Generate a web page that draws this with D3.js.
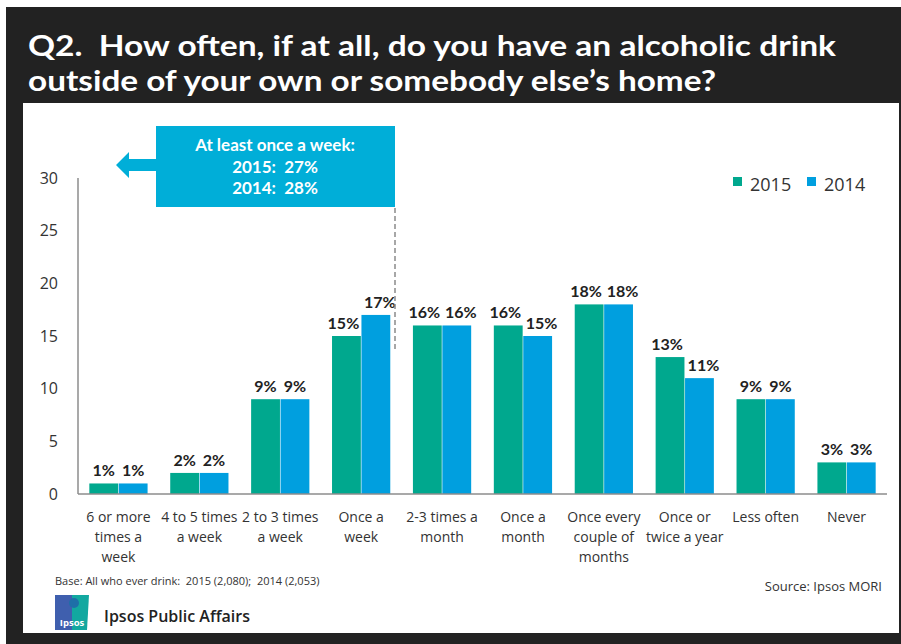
<!DOCTYPE html>
<html><head><meta charset="utf-8">
<script src="https://cdn.jsdelivr.net/npm/d3@7"></script>
<style>body{margin:0;background:#fff}svg{display:block}text{white-space:pre}</style>
</head><body>
<svg id="c" width="901" height="644"></svg>
<script>
const categories = [
  ["6 or more","times a","week"],
  ["4 to 5 times","a week"],
  ["2 to 3 times","a week"],
  ["Once a","week"],
  ["2-3 times a","month"],
  ["Once a","month"],
  ["Once every","couple of","months"],
  ["Once or","twice a year"],
  ["Less often"],
  ["Never"]
];
const series = ["2015","2014"];
const values2015 = [1,2,9,15,16,16,18,13,9,3];
const values2014 = [1,2,9,17,16,15,18,11,9,3];
const yTicks = [0,5,10,15,20,25,30];
const colors = {"2015":"#00A88E","2014":"#009FDF"};

const svg = d3.select("#c");
const font = "'Open Sans','Noto Sans',sans-serif";
const bfont = "Lato,'Open Sans',sans-serif";

// frame
svg.append("rect").attr("x",6).attr("y",7).attr("width",895).attr("height",637).attr("fill","#222222");
svg.append("rect").attr("x",23).attr("y",103).attr("width",876).attr("height",530).attr("fill","#ffffff");

// title
const titleLines = ["Q2.  How often, if at all, do you have an alcoholic drink","outside of your own or somebody else\u2019s home?"];
const titleW = [808, 688];
titleLines.forEach((t,i)=>{
  svg.append("text").attr("x",28).attr("y",56+i*35).attr("fill","#fff")
    .attr("font-family",bfont).attr("font-weight","bold").attr("font-size",29)
    .attr("textLength",titleW[i]).attr("lengthAdjust","spacingAndGlyphs").text(t);
});

const m = {left:78,right:887,top:178,bottom:494};
const x0 = d3.scaleBand().domain(d3.range(categories.length)).range([m.left,m.right]).paddingInner(0.28).paddingOuter(0.14);
const x1 = d3.scaleBand().domain(series).range([0,x0.bandwidth()]).paddingInner(0.02);
const y = d3.scaleLinear().domain([0,30]).range([m.bottom,m.top]);

// y axis labels
const yAxis = d3.axisLeft(y).tickValues(yTicks).tickSize(0).tickPadding(20);
const ga = svg.append("g").attr("transform",`translate(${m.left},0)`).call(yAxis);
ga.select(".domain").attr("stroke","#8c8c8c").attr("stroke-width",1.5).attr("d",`M0,${m.top}V${m.bottom}`);
ga.selectAll("text").attr("font-family",font).attr("font-size",16).attr("fill","#333");

// bars
const data = categories.map((c,i)=>({i, vals:{"2015":values2015[i],"2014":values2014[i]}}));
const g = svg.append("g");
data.forEach(d=>{
  series.forEach(s=>{
    const v = d.vals[s];
    const bx = x0(d.i)+x1(s);
    g.append("rect").attr("x",bx).attr("y",y(v)).attr("width",x1.bandwidth()).attr("height",y(0)-y(v)).attr("fill",colors[s]);
  });
  const wide = d.vals["2015"]>=10 || d.vals["2014"]>=10;
  series.forEach((s,k)=>{
    const v = d.vals[s];
    const bx = x0(d.i)+x1(s);
    const shift = wide ? (k===0 ? -3 : 4) : 0;
    g.append("text").attr("x",bx+x1.bandwidth()/2+shift).attr("y",y(v)-7).attr("text-anchor","middle")
      .attr("font-family",bfont).attr("font-weight","bold").attr("font-size",16).attr("fill","#222").text(v+"%");
  });
});

// x axis
const xa = svg.append("g").attr("transform",`translate(0,${m.bottom})`)
  .call(d3.axisBottom(x0).tickSize(0).tickFormat(""));
xa.select(".domain").attr("stroke","#8c8c8c").attr("stroke-width",1.5).attr("d",`M${m.left},0H${m.right}`);
categories.forEach((c,i)=>{
  const t = svg.append("text").attr("text-anchor","middle").attr("font-family",font).attr("font-size",14).attr("fill","#333");
  c.forEach((line,j)=>{
    t.append("tspan").attr("x",x0(i)+x0.bandwidth()/2).attr("y",522+j*20).text(line);
  });
});

// legend
series.forEach((s,i)=>{
  const lx = 733 + i*74;
  svg.append("rect").attr("x",lx).attr("y",177).attr("width",9).attr("height",9).attr("fill",colors[s]);
  svg.append("text").attr("x",lx+17).attr("y",191).attr("font-family",font).attr("font-size",18).attr("fill","#333").text(s);
});

// dashed line
svg.append("line").attr("x1",395).attr("x2",395).attr("y1",208).attr("y2",352)
  .attr("stroke","#8a8a8a").attr("stroke-width",1.5).attr("stroke-dasharray","5,3");

// callout
const cc = "#00AED8";
svg.append("rect").attr("x",156).attr("y",126).attr("width",239).attr("height",81).attr("fill",cc);
svg.append("path").attr("d","M116,165 L129,152 L129,159 L156,159 L156,171 L129,171 L129,178 Z").attr("fill",cc);
["At least once a week:","2015:  27%","2014:  28%"].forEach((t,i)=>{
  svg.append("text").attr("x",275).attr("y",151+i*21.5).attr("text-anchor","middle").attr("fill","#fff")
    .attr("font-family",bfont).attr("font-weight","bold").attr("font-size",17).text(t);
});

// footer
svg.append("text").attr("x",55).attr("y",585).attr("font-family",font).attr("font-size",11).attr("fill","#333")
  .text("Base: All who ever drink:  2015 (2,080);  2014 (2,053)");
svg.append("text").attr("x",882).attr("y",591).attr("text-anchor","end").attr("font-family",font).attr("font-size",13).attr("fill","#333")
  .text("Source: Ipsos MORI");
// logo
svg.append("rect").attr("x",55).attr("y",595).attr("width",17).attr("height",35).attr("fill","#3F5FAE");
svg.append("path").attr("d","M72,595 L89,595 L87,630 L72,630 Z").attr("fill","#12A8A0");
svg.append("circle").attr("cx",74).attr("cy",603).attr("r",5).attr("fill","#1E6FA8");
svg.append("text").attr("x",72).attr("y",626).attr("text-anchor","middle").attr("font-family",font).attr("font-weight","bold").attr("font-size",9.5).attr("fill","#fff").text("Ipsos");
svg.append("text").attr("x",104).attr("y",622).attr("font-family",font).attr("font-weight","600").attr("font-size",16).attr("fill","#222").text("Ipsos Public Affairs");
</script>
</body></html>
